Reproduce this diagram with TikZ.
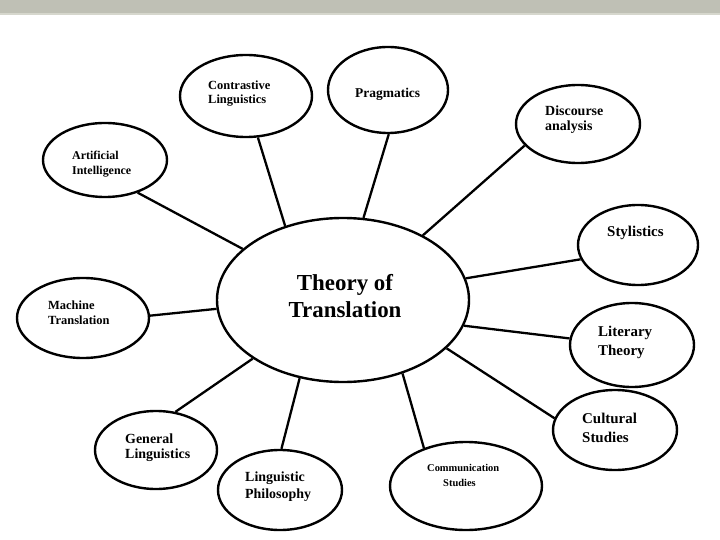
\documentclass[tikz,border=0pt]{standalone}
\usepackage{fontspec}
\setmainfont{Liberation Serif}
\usetikzlibrary{shapes.geometric}
\definecolor{band}{RGB}{191,192,181}
\definecolor{bandlight}{RGB}{214,215,205}
\begin{document}
\begin{tikzpicture}[x=1bp,y=-1bp,
  bub/.style={draw=black, line width=2.4bp, ellipse, inner sep=0pt},
  lab/.style={anchor=west, align=left, inner sep=0pt},
  conn/.style={line width=2.3bp}]
\useasboundingbox (0,0) rectangle (720,540);
\fill[band] (0,0) rectangle (720,13);
\fill[bandlight] (0,13) rectangle (720,15);
% central
\node[bub, minimum width=252bp, minimum height=164bp] (c) at (343,300) {};
\node[inner sep=0pt, align=center, font=\fontsize{23}{27}\selectfont\bfseries] (ct) at (345,296) {Theory of\\Translation};
% satellites
\node[bub, minimum width=132bp, minimum height=82bp] (contr) at (246,96) {};
\node[bub, minimum width=120bp, minimum height=86bp] (prag) at (388,90) {};
\node[bub, minimum width=124bp, minimum height=78bp] (disc) at (578,124) {};
\node[bub, minimum width=124bp, minimum height=74bp] (ai) at (105,160) {};
\node[bub, minimum width=120bp, minimum height=80bp] (styl) at (638,245) {};
\node[bub, minimum width=124bp, minimum height=84bp] (lit) at (632,345) {};
\node[bub, minimum width=124bp, minimum height=80bp] (cult) at (615,430) {};
\node[bub, minimum width=132bp, minimum height=80bp] (mach) at (83,318) {};
\node[bub, minimum width=122bp, minimum height=78bp] (gen) at (156,450) {};
\node[bub, minimum width=124bp, minimum height=80bp] (phil) at (280,490) {};
\node[bub, minimum width=152bp, minimum height=88bp] (comm) at (466,486) {};
% labels
\node[lab, font=\fontsize{12.5}{14}\selectfont\bfseries] (contrt) at (208,94) {Contrastive\\Linguistics};
\node[lab, font=\fontsize{13.5}{15}\selectfont\bfseries] (pragt) at (355,94) {Pragmatics};
\node[lab, font=\fontsize{14}{15}\selectfont\bfseries] (disct) at (545,119.5) {Discourse\\analysis};
\node[lab, font=\fontsize{12}{15}\selectfont\bfseries] (ait) at (72,164.5) {Artificial\\Intelligence};
\node[lab, font=\fontsize{15}{17}\selectfont\bfseries] (stylt) at (607,233) {Stylistics};
\node[lab, font=\fontsize{15}{19}\selectfont\bfseries] (litt) at (598,342.5) {Literary\\Theory};
\node[lab, font=\fontsize{15}{19}\selectfont\bfseries] (cultt) at (582,427.5) {Cultural\\Studies};
\node[lab, font=\fontsize{12.5}{15}\selectfont\bfseries] (macht) at (48,312.5) {Machine\\Translation};
\node[lab, font=\fontsize{14}{15}\selectfont\bfseries] (gent) at (125,447.5) {General\\Linguistics};
\node[lab, font=\fontsize{14}{17}\selectfont\bfseries] (philt) at (245,486.5) {Linguistic\\Philosophy};
\node[lab, font=\fontsize{10.5}{15}\selectfont\bfseries] (commt) at (427,475.5) {Communication\\\hspace*{16bp}Studies};
% connectors
\draw[conn] (c.128) -- (contr.286);
\draw[conn] (c.76) -- (prag.271);
\draw[conn] (c.39) -- (disc.202);
\draw[conn] (c.153) -- (ai.315);
\draw[conn] (c.10) -- (styl.194);
\draw[conn] (c.348) -- (lit.174);
\draw[conn] (c.335) -- (cult.169);
\draw[conn] (c.184) -- (mach.2);
\draw[conn] (c.213) -- (gen.63);
\draw[conn] (c.241) -- (phil.88);
\draw[conn] (c.309) -- (comm.138);
\end{tikzpicture}
\end{document}
